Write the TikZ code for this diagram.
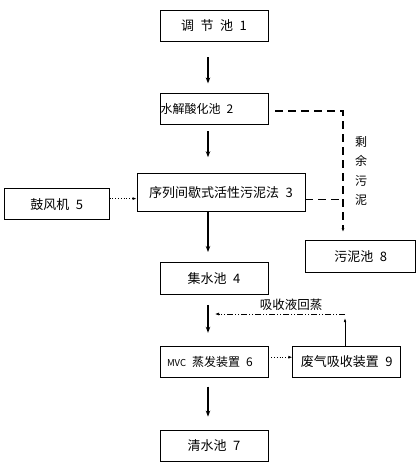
\documentclass[tikz,border=0pt]{standalone}
\usepackage{fontspec}
\newfontfamily\cjk{Noto Sans CJK SC}
\usepackage{tikz}
\usetikzlibrary{arrows.meta, positioning, calc}

\begin{document}
\begin{tikzpicture}[x=1pt, y=-1pt, node distance=51pt and 27pt, >=Latex,
    unit/.style={rectangle, draw, line width=0.8pt, text centered, minimum height=31pt, minimum width=108pt, inner sep=0pt, font=\cjk\fontsize{13pt}{15pt}\selectfont},
    flow/.style={line width=2.4pt, -{Stealth[length=6pt, width=4.5pt]}},
    air/.style={dotted, line width=0.8pt, -{Latex[length=4pt, width=3pt]}},
    sludge/.style={line width=1.5pt, dash pattern=on 8pt off 5pt},
    back/.style={line width=0.6pt, dash pattern=on 6pt off 2pt on 1pt off 2pt on 1pt off 2pt},
    note/.style={font=\cjk\fontsize{12pt}{19.5pt}\selectfont, inner sep=0pt, align=center}]

    \useasboundingbox (0,0) rectangle (419,464);

    \node (pool1) [unit] at (214,25.5) {调\enspace 节\enspace 池\enspace 1};
    \node (pool2) [unit, below=52pt of pool1, text width=107pt, inner xsep=0.5pt, align=left, font=\cjk\fontsize{12pt}{14pt}\selectfont] {水解酸化池\enspace 2};
    \node (sbr) [unit, below=48pt of pool2, xshift=7pt, minimum width=168pt, minimum height=38pt] {序列间歇式活性污泥法\enspace 3};
    \node (pool4) [unit, below=50pt of sbr, xshift=-7pt, minimum height=32pt] {集水池\enspace 4};
    \node (mvc) [unit, below=51pt of pool4, text width=94pt, inner xsep=7pt, align=left, font=\cjk\fontsize{12pt}{14pt}\selectfont] {{\fontsize{9.5pt}{10pt}\selectfont MVC}\enspace 蒸发装置\enspace 6};
    \node (pool7) [unit, below=52pt of mvc] {清水池\enspace 7};
    \node (blower) [unit, left=27pt of sbr, yshift=-11.5pt, minimum width=105pt] {鼓风机\enspace 5};
    \node (pool8) [unit, right=37pt of pool4, yshift=22pt, minimum width=110pt, minimum height=32pt] {污泥池\enspace 8};
    \node (absorb) [unit, right=24pt of mvc] {废气吸收装置\enspace 9};

    % Main flow
    \draw [flow, shorten <=16pt, shorten >=10pt] ([xshift=-6pt]pool1.south) -- ([xshift=-6pt]pool2.north);
    \draw [flow, shorten <=6pt, shorten >=16pt] ([xshift=-6pt]pool2.south) -- ([xshift=-6pt]pool2.south |- sbr.north);
    \draw [flow, shorten >=10pt] ([xshift=-13pt]sbr.south) -- ([xshift=-6pt]pool4.north);
    \draw [flow, shorten <=10pt, shorten >=13pt] ([xshift=-6pt]pool4.south) -- ([xshift=-6pt]mvc.north);
    \draw [flow, shorten <=9pt, shorten >=13pt] ([xshift=-6pt]mvc.south) -- ([xshift=-6pt]pool7.north);

    % Air and exhaust (dotted)
    \draw [air] ([yshift=5.5pt]blower.east) -- ([yshift=-6pt]sbr.west);
    \draw [air] ([yshift=4.5pt]mvc.east) -- ([yshift=4.5pt]absorb.west);

    % Excess sludge (dashed)
    \coordinate (bend) at (343,111);
    \coordinate (join) at ([yshift=-7pt]sbr.east);
    \draw [sludge, -{Latex[length=4pt, width=3pt]}] ([xshift=7pt]pool2.east |- bend) -- (bend) -- ($(bend |- pool8.north)+(0,-8)$);
    \draw [sludge] (join) -- (join -| bend);
    \node (excess) [note] at (361,171) {剩\\余\\污\\泥};

    % Absorbent back to evaporator
    \coordinate (ret) at (345,314);
    \draw [line width=0.6pt, -{Latex[length=4pt, width=2.5pt]}, shorten >=4pt] (absorb.north -| ret) -- (ret);
    \draw [back, -{Latex[length=4pt, width=3pt]}] (ret) -- ($(ret -| mvc.north)+(1,0)$);
    \node (relabel) [note, font=\cjk\fontsize{12.5pt}{15pt}\selectfont] at (291,305) {吸收液回蒸};

\end{tikzpicture}
\end{document}
